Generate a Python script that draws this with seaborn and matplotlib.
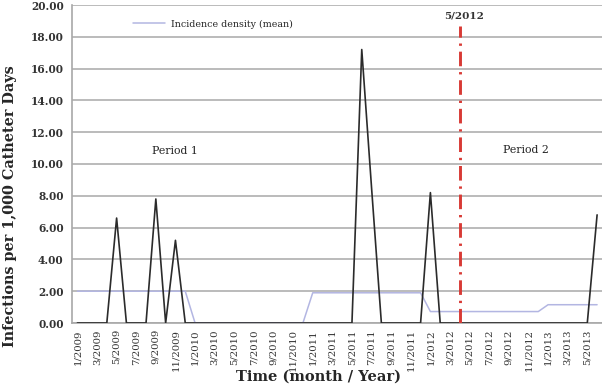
import numpy as np
import pandas as pd
import matplotlib
matplotlib.use("Agg")
import matplotlib.pyplot as plt
import seaborn as sns

# months 1/2009 .. 6/2013
months = [f"{m}/{y}" for y in range(2009, 2014) for m in range(1, 13)][:54]

# monthly incidence density (infections per 1,000 catheter days)
monthly = [
    0, 0, 0, 0, 6.6, 0, 0, 0, 7.8, 0, 5.2, 0,          # 2009
    0, 0, 0, 0, 0, 0, 0, 0, 0, 0, 0, 0,                # 2010
    0, 0, 0, 0, 0, 17.2, 8.5, 0, 0, 0, 0, 0,           # 2011
    8.2, 0, 0, 0, 0, 0, 0, 0, 0, 0, 0, 0,              # 2012
    0, 0, 0, 0, 0, 6.8,                                # 2013
]
# yearly mean incidence density
mean_density = [2.0] * 12 + [0.0] * 12 + [1.9] * 12 + [0.72] * 12 + [1.15] * 6

cutoff_idx = 39  # 5/2012 intervention
cutoff_label = "5/2012"

df = pd.DataFrame({"idx": np.arange(len(months)), "month": months,
                   "monthly": monthly, "mean": mean_density})

sns.set_style("white")
plt.rcParams['font.family'] = ['DejaVu Serif']

fig = plt.figure(figsize=(6.02, 3.90), dpi=100)
ax = fig.add_axes([72 / 602, 67 / 390, 530 / 602, 318 / 390])

sns.lineplot(data=df, x="idx", y="mean", ax=ax, color="#b3b6e2", lw=1.1,
             label="Incidence density (mean)", zorder=3)
sns.lineplot(data=df, x="idx", y="monthly", ax=ax, color="#2b2b2b", lw=1.2,
             legend=False, zorder=4)

ax.vlines(cutoff_idx, 0, 18.7, color="#d83a35", lw=2.1,
          linestyle=(0, (5, 2, 0.8, 2)), zorder=5)
ax.text(cutoff_idx + 0.4, 19.3, cutoff_label, ha="center", va="center",
        fontsize=7.5, color="#333333", fontweight="bold")
ax.text(9.9, 10.8, "Period 1", ha="center", va="center", fontsize=7.8, color="#222222")
ax.text(45.7, 10.9, "Period 2", ha="center", va="center", fontsize=7.8, color="#222222")

ax.set_xlim(-0.55, 53.5)
ax.set_ylim(0, 20)
ax.set_yticks(np.arange(0, 20.1, 2))
ax.set_yticklabels([f"{v:.2f}" for v in np.arange(0, 20.1, 2)],
                   fontsize=7.6, fontweight="bold", color="#333333")
ax.yaxis.grid(True, color="#b5b5b5", lw=1.3)
ax.set_axisbelow(True)

ax.set_xticks(df["idx"][::2])
ax.set_xticklabels(df["month"][::2], rotation=90, fontsize=7.3, color="#333333")
ax.tick_params(axis="x", length=3, width=0.8, color="#999999", pad=1.5)
ax.tick_params(axis="y", length=3, width=1.0, color="#b5b5b5", pad=3)

for s in ["top", "right"]:
    ax.spines[s].set_visible(False)
for s in ["left", "bottom"]:
    ax.spines[s].set_color("#a8a8a8")
    ax.spines[s].set_linewidth(1.2)

ax.set_xlabel("Time (month / Year)", fontsize=10.5, fontweight="bold")
ax.xaxis.set_label_coords((318 - 72) / 530, (323 - 370) / 318)
ax.set_ylabel("Infections per 1,000 Catheter Days", fontsize=10.4, fontweight="bold")
ax.yaxis.set_label_coords((17 - 72) / 530, (323 - 206) / 318)

ax.legend(loc="center left", bbox_to_anchor=(0.115, 0.94), frameon=False,
          fontsize=6.8, handlelength=3.4, handletextpad=0.6, borderpad=0,
          borderaxespad=0)

fig.savefig("out.png", dpi=100)
